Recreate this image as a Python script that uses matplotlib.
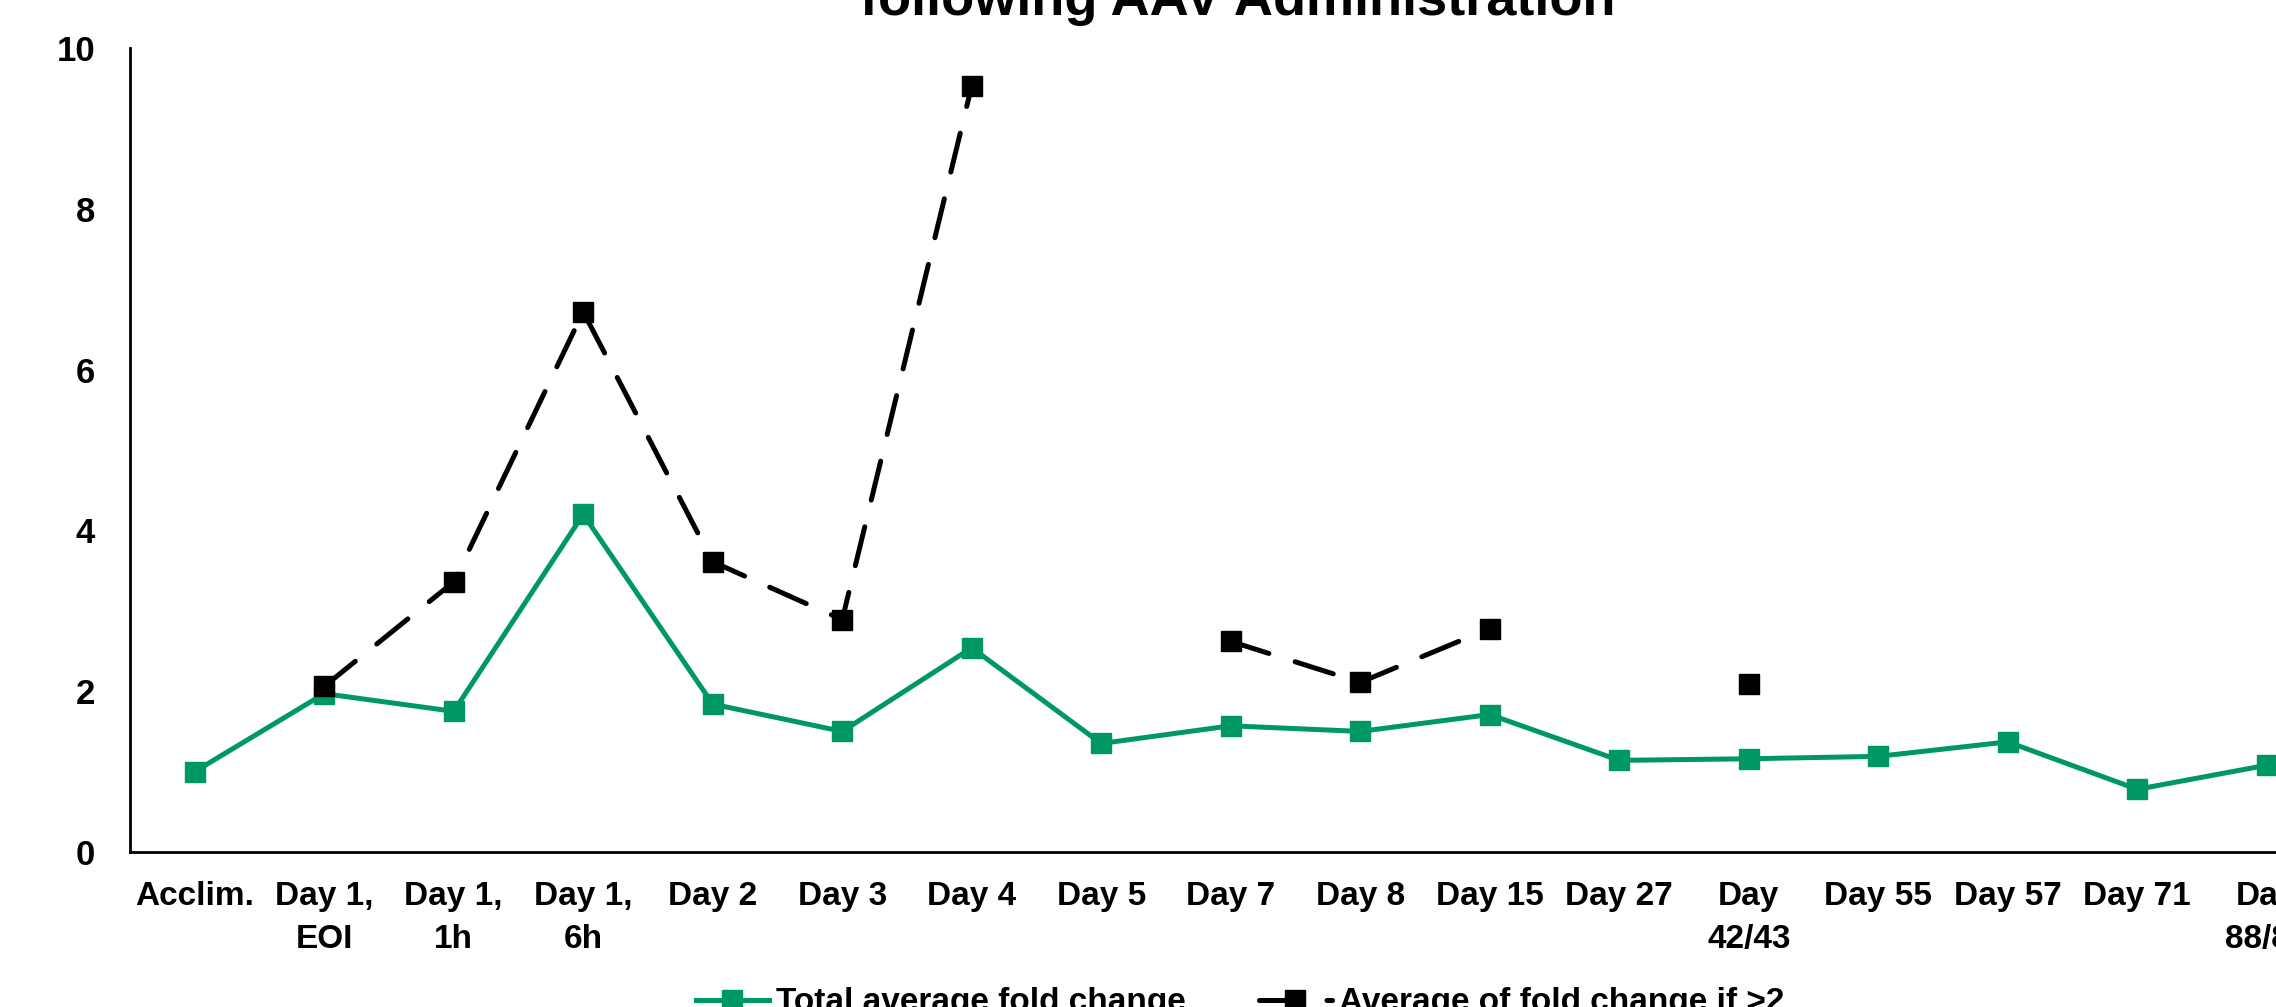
import matplotlib
matplotlib.use("Agg")
import matplotlib.pyplot as plt
import numpy as np

# time points on the x axis
timepoints = ["Acclim.", "Day 1,\nEOI", "Day 1,\n1h", "Day 1,\n6h", "Day 2", "Day 3",
              "Day 4", "Day 5", "Day 7", "Day 8", "Day 15", "Day 27", "Day\n42/43",
              "Day 55", "Day 57", "Day 71", "Day\n88/89"]

# Total average fold change
total_avg = [1.00, 1.97, 1.75, 4.20, 1.84, 1.50, 2.54, 1.35, 1.57, 1.50, 1.71,
             1.14, 1.16, 1.19, 1.37, 0.78, 1.08]

# Average of fold change if >2 (nan = no animal above 2)
avg_above2 = [np.nan, 2.06, 3.36, 6.72, 3.61, 2.89, 9.53, np.nan, 2.62, 2.11, 2.78,
              np.nan, 2.09, np.nan, np.nan, np.nan, np.nan]

green = "#009766"
plt.rcParams['font.family'] = ['Liberation Sans', 'DejaVu Sans']
plt.rcParams['font.weight'] = 'bold'

fig = plt.figure(figsize=(22.76, 10.07), dpi=100)
ax = fig.add_axes([0.0571, 0.1539, 0.9673, 0.7984])

x = np.arange(len(timepoints))
ax.plot(x, total_avg, color=green, lw=3.6, marker="s", markersize=14.5,
        label="Total average fold change")
ax.plot(x, avg_above2, color="black", lw=3.6, dashes=(8, 5.5), dash_capstyle="round",
        marker="s", markersize=14.5, label="Average of fold change if >2")

ax.set_xlim(-0.5, len(timepoints) - 0.5)
ax.set_ylim(0, 10)
ax.set_yticks(range(0, 11, 2))
ax.set_xticks(x)
ax.set_xticklabels(timepoints, fontsize=24, fontweight='bold', linespacing=1.5)
ax.tick_params(axis='x', length=0, pad=21)
ax.tick_params(axis='y', length=0, pad=25, labelsize=25)
for lab in ax.get_yticklabels():
    lab.set_fontweight('bold')

for s in ["top", "right"]:
    ax.spines[s].set_visible(False)
for s in ["left", "bottom"]:
    ax.spines[s].set_linewidth(2)
    ax.spines[s].set_color("black")

# title is partly outside the picture, as in the original
fig.text(0.544, 0.985, "following AAV Administration", ha="center", va="baseline",
         fontsize=39, fontweight="bold")

fig.legend(loc="center", bbox_to_anchor=(0.5448, 0.004), ncol=2, frameon=False,
           fontsize=24, handlelength=2.2, handletextpad=0.2, columnspacing=2.2)

fig.savefig("out.png", dpi=100)
